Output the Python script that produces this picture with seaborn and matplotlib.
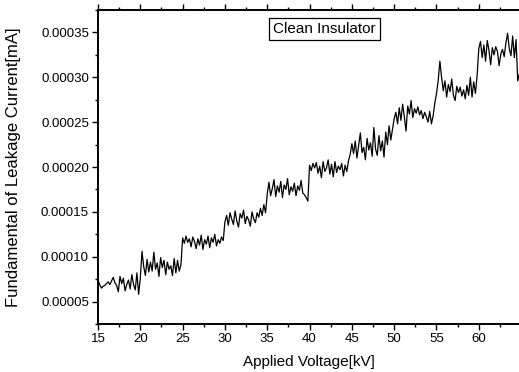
import numpy as np
import pandas as pd
import matplotlib
matplotlib.use("Agg")
import matplotlib.pyplot as plt
from matplotlib.ticker import MultipleLocator, FormatStrFormatter
import seaborn as sns

# Applied voltage samples (kV), 0.2 kV apart
voltage_start = 15.0
voltage_step = 0.2

# Fundamental of leakage current, in units of 1e-5 mA, one list per 5 kV band
seg_15 = [7.4, 6.9, 6.5, 6.7, 6.8, 7.0, 7.2, 6.9, 7.3, 7.7, 7.1, 6.8, 6.1, 7.8, 7.0,
          7.6, 6.2, 6.9, 7.4, 6.4, 8.0, 6.9, 6.3, 8.2, 5.8]
seg_20 = [7.6, 10.6, 8.9, 7.9, 9.7, 8.3, 9.4, 8.4, 10.5, 8.6, 9.3, 7.8, 9.9, 8.8, 9.6,
          8.0, 9.4, 8.6, 9.0, 7.9, 9.8, 8.2, 9.6, 8.4, 9.1]
seg_25 = [12.1, 11.5, 12.3, 11.6, 12.0, 11.1, 12.2, 11.7, 10.9, 12.0, 11.3, 12.4, 10.8, 11.9, 11.4,
          12.3, 11.0, 12.1, 11.6, 12.5, 11.2, 11.9, 11.5, 12.2, 11.8]
seg_30 = [13.9, 14.6, 13.5, 14.9, 14.2, 13.6, 15.1, 14.0, 13.3, 14.8, 14.3, 15.2, 13.7, 14.5, 14.1,
          13.4, 15.0, 14.2, 13.8, 14.9, 14.4, 15.4, 14.6, 15.8, 14.9]
seg_35 = [17.0, 18.3, 16.8, 17.6, 18.6, 16.7, 17.9, 17.2, 18.4, 16.6, 18.0, 17.5, 18.7, 16.9, 17.8,
          17.3, 18.2, 16.8, 17.9, 17.4, 18.5, 17.1, 16.9, 16.6, 16.2]
seg_40 = [20.2, 19.6, 20.4, 19.9, 20.5, 19.3, 20.1, 18.8, 20.6, 19.5, 19.9, 20.8, 19.2, 20.3, 18.9,
          20.6, 19.4, 20.1, 19.7, 20.4, 19.0, 20.2, 19.5, 20.7, 21.4]
seg_45 = [22.6, 21.5, 22.9, 21.0, 22.4, 23.8, 21.6, 22.2, 20.8, 23.2, 21.9, 22.7, 21.2, 24.4, 22.0,
          21.3, 23.5, 21.8, 22.9, 21.1, 23.9, 22.5, 24.6, 23.0, 24.2]
seg_50 = [25.4, 26.1, 24.8, 26.6, 25.2, 27.0, 25.6, 24.0, 26.8, 25.9, 27.4, 25.5, 26.5, 26.0, 26.7,
          25.8, 26.3, 25.4, 26.1, 25.6, 25.0, 26.2, 24.8, 25.7, 27.1]
seg_55 = [28.2, 29.6, 31.8, 30.0, 28.5, 29.6, 27.8, 29.2, 28.4, 29.8, 28.0, 27.4, 29.0, 28.3, 28.9,
          27.9, 28.6, 27.6, 29.1, 28.0, 30.0, 27.8, 29.5, 28.2, 30.2]
seg_60 = [33.2, 34.0, 32.2, 33.6, 31.8, 34.1, 33.0, 31.4, 33.3, 32.5, 33.4, 32.9, 31.3, 32.6, 33.1,
          32.3, 33.8, 34.9, 33.2, 32.4, 34.6, 32.2, 34.2, 29.6, 30.4]

x_ticks = [15, 20, 25, 30, 35, 40, 45, 50, 55, 60]
y_ticks = [0.00005, 0.00010, 0.00015, 0.00020, 0.00025, 0.00030, 0.00035]
x_label = "Applied Voltage[kV]"
y_label = "Fundamental of Leakage Current[mA]"
legend_text = "Clean Insulator"

current_e5 = seg_15 + seg_20 + seg_25 + seg_30 + seg_35 + seg_40 + seg_45 + seg_50 + seg_55 + seg_60
current = np.array(current_e5) * 1e-5  # unit conversion to mA
voltage = voltage_start + voltage_step * np.arange(len(current))
df = pd.DataFrame({"voltage": voltage, "current": current})

sns.set_style("ticks")
plt.rcParams["font.family"] = ["Liberation Sans", "DejaVu Sans"]

fig = plt.figure(figsize=(5.19, 3.72), dpi=100)
ax = fig.add_axes([98 / 519, 1 - 324 / 372, 1 - 98 / 519, (324 - 10) / 372])

sns.lineplot(data=df, x="voltage", y="current", ax=ax, color="black", linewidth=0.9)

ax.set_xlim(15, 64.75)
ax.set_ylim(0.000025, 0.000375)
ax.set_xticks(x_ticks)
ax.set_yticks(y_ticks)
ax.xaxis.set_minor_locator(MultipleLocator(2.5))
ax.yaxis.set_minor_locator(MultipleLocator(0.000025))
ax.yaxis.set_major_formatter(FormatStrFormatter("%.5f"))
ax.xaxis.set_major_formatter(FormatStrFormatter("%d"))

ax.tick_params(axis="both", which="major", direction="out", length=4.5, width=1.0,
               labelsize=9.5, pad=2, color="black", labelcolor="black")
ax.tick_params(axis="both", which="minor", direction="out", length=2.5, width=1.0, color="black")
ax.tick_params(axis="x", which="both", top=True)

for side in ["left", "bottom", "top"]:
    ax.spines[side].set_visible(True)
    ax.spines[side].set_linewidth(1.4)
    ax.spines[side].set_color("black")
ax.spines["right"].set_visible(False)

ax.set_xlabel(x_label, fontsize=11, labelpad=7, color="black")
ax.set_ylabel(y_label, fontsize=12, color="black")
ax.yaxis.set_label_coords(-0.183, 0.5)

ax.text(0.538, 0.9395, legend_text, transform=ax.transAxes, ha="center", va="center",
        fontsize=11, color="black",
        bbox=dict(boxstyle="square,pad=0.25", facecolor="white", edgecolor="black", linewidth=0.9))

fig.savefig("out.png", dpi=100)
